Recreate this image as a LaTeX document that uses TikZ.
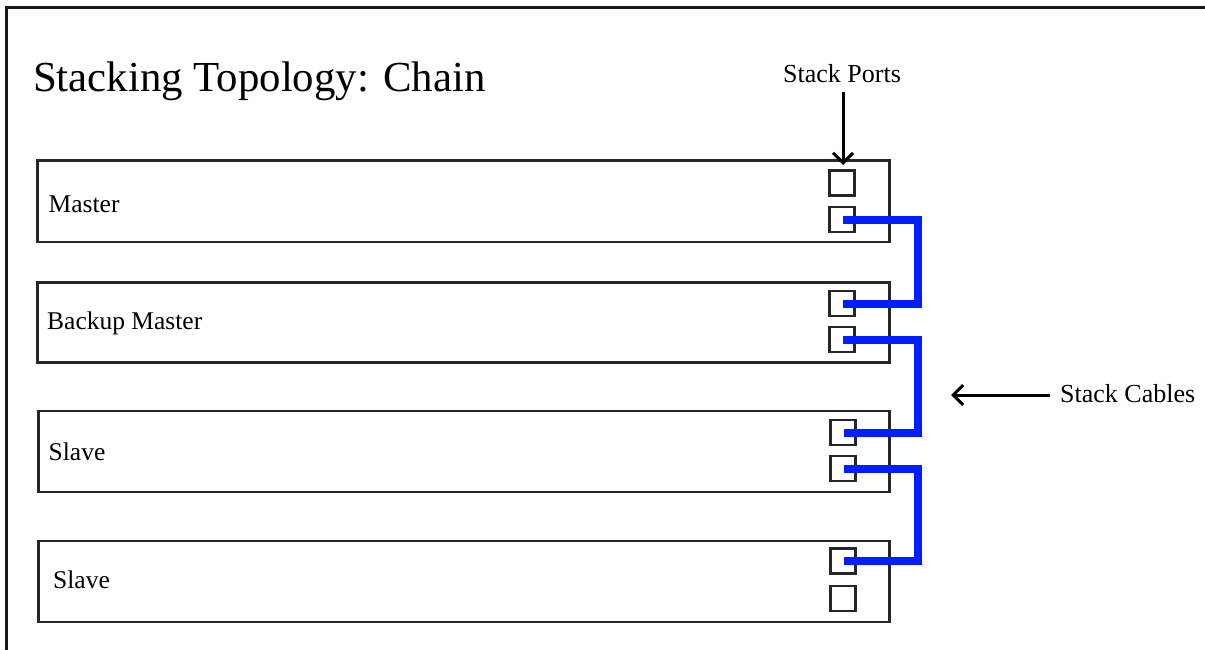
\documentclass[tikz,border=0pt]{standalone}
\usepackage{fontspec}
\setmainfont{Liberation Serif}
\usetikzlibrary{arrows.meta}
\begin{document}
\begin{tikzpicture}[x=1pt,y=-1pt,
  unitbox/.style={draw=black!85, line width=2.6pt, minimum width=852pt, minimum height=81pt, inner sep=0pt, anchor=north west},
  port/.style={draw=black!85, line width=2.4pt, minimum size=25pt, inner sep=0pt},
  cable/.style={draw={rgb,255:red,0;green,30;blue,255}, line width=8pt, line join=miter},
  lbl/.style={font=\fontsize{25.5}{30}\selectfont, anchor=base west, inner sep=0pt},
  callout/.style={font=\fontsize{26}{30}\selectfont, inner sep=0pt},
  arr/.style={line width=3pt, -{Straight Barb[length=10pt,width=20pt,line width=3pt]}}
]
\useasboundingbox (0,0) rectangle (1205,650);
\fill[white] (0,0) rectangle (1205,650);
% frame
\draw[line width=2.4pt, black!90] (6.5,650) -- (6.5,7.5) -- (1205,7.5);
% title
\node[anchor=base west, inner sep=0pt, font=\fontsize{42.8}{50}\selectfont] (title) at (33,92) {Stacking Topology: Chain};
% units
\node[unitbox] (u1) at (36,159.5) {};
\node[unitbox, minimum height=80pt] (u2) at (36,281) {};
\node[unitbox, minimum width=851pt] (u3) at (37,409.5) {};
\node[unitbox, minimum width=851pt] (u4) at (37,539.5) {};
\node[lbl] (l1) at (48.5,212) {Master};
\node[lbl] (l2) at (47,329) {Backup Master};
\node[lbl] (l3) at (48.5,460) {Slave};
\node[lbl] (l4) at (53,588) {Slave};
% ports
\node[port] (p11) at (842,183) {};
\node[port] (p12) at (842,219.5) {};
\node[port] (p21) at (842,303.5) {};
\node[port] (p22) at (842,339.5) {};
\node[port] (p31) at (843,432.5) {};
\node[port] (p32) at (843,468.5) {};
\node[port] (p41) at (843,561) {};
\node[port] (p42) at (843,598.5) {};
% cables
\coordinate (cx) at (917.5,0);
\draw[cable] ([xshift=1pt]p12.center) -- (p12.center -| cx) |- ([xshift=1pt]p21.center);
\draw[cable] ([xshift=1pt]p22.center) -- (p22.center -| cx) |- ([xshift=1pt]p31.center);
\draw[cable] ([xshift=1pt]p32.center) -- (p32.center -| cx) |- ([xshift=1pt]p41.center);
% callouts
\node[callout, anchor=base] (sp) at (842,83) {Stack Ports};
\coordinate (spt) at (843,165);
\draw[arr] (843,92) -- (spt);
\node[callout, anchor=base west] (sc) at (1060,402) {Stack Cables};
\coordinate (sct) at (951,395);
\draw[arr] ([xshift=-10pt]sc.west |- sct) -- (sct);
\end{tikzpicture}
\end{document}
